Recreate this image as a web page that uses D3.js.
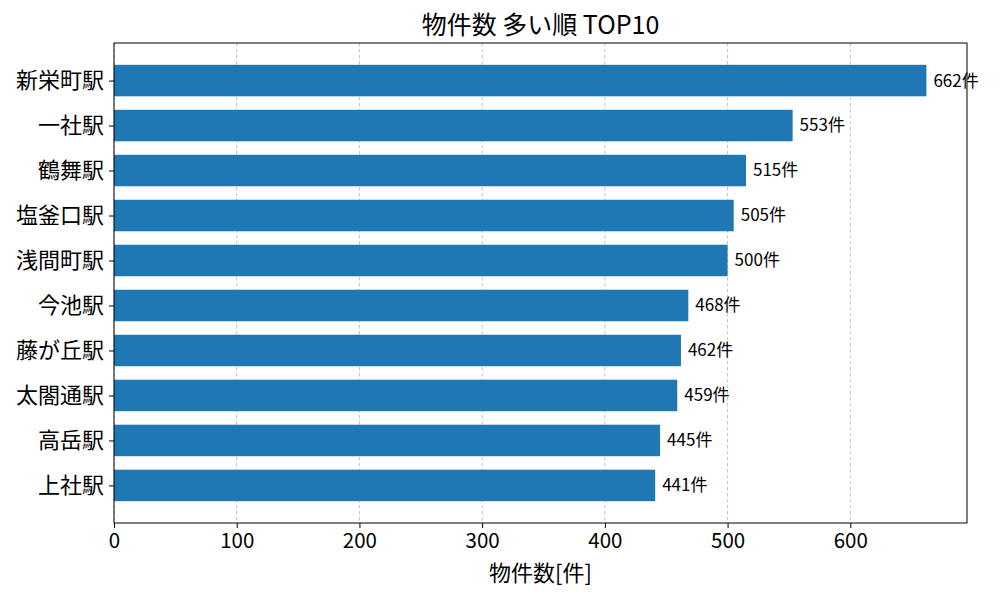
<!DOCTYPE html>
<html><head><meta charset="utf-8">
<script src="https://cdn.jsdelivr.net/npm/d3@7"></script>
<style>body{margin:0;background:#fff}svg{font-family:"Noto Sans CJK JP","Noto Sans",sans-serif}</style>
</head><body><svg id="c" width="1000" height="600"></svg>
<script>
const stations = ["新栄町駅","一社駅","鶴舞駅","塩釜口駅","浅間町駅","今池駅","藤が丘駅","太閤通駅","高岳駅","上社駅"];
const counts = [662,553,515,505,500,468,462,459,445,441];
const xTicks = [0,100,200,300,400,500,600];
const titleText = "物件数 多い順 TOP10";
const xLabelText = "物件数[件]";

const svg = d3.select("#c");
const m = {l:114, r:967, t:43, b:523};
const x = d3.scaleLinear().domain([0, d3.max(counts)*1.05]).range([m.l, m.r]);
const n = stations.length;
const lo = -0.35, hi = n-1+0.35, pad = (hi-lo)*0.05;
const y = d3.scaleLinear().domain([lo-pad, hi+pad]).range([m.t, m.b]);

// grid
svg.append("g").selectAll("line").data(xTicks).join("line")
  .attr("x1", d=>x(d)).attr("x2", d=>x(d)).attr("y1", m.t).attr("y2", m.b)
  .attr("stroke","#b0b0b0").attr("stroke-opacity",0.85).attr("stroke-width",0.9)
  .attr("stroke-dasharray","3.5,2.5");

// bars
svg.append("g").selectAll("rect").data(counts).join("rect")
  .attr("x", x(0)).attr("y", (d,i)=>y(i-0.35))
  .attr("width", d=>x(d)-x(0)).attr("height", (d,i)=>y(i+0.35)-y(i-0.35))
  .attr("fill","#1f77b4");

// value labels
svg.append("g").selectAll("text").data(counts).join("text")
  .attr("x", d=>x(d)+7).attr("y", (d,i)=>y(i)).attr("dy","0.35em")
  .attr("font-size",17).attr("fill","#000").text(d=>d+"件");

// x axis
const xa = svg.append("g").attr("transform",`translate(0,${m.b})`)
  .call(d3.axisBottom(x).tickValues(xTicks).tickSize(5).tickPadding(5).tickFormat(d3.format("d")));
xa.select(".domain").remove();
xa.selectAll("text").attr("font-size",20.5).attr("fill","#000").attr("font-family","Noto Sans CJK JP");
xa.selectAll("line").attr("stroke","#000");

// y axis
const ya = svg.append("g").attr("transform",`translate(${m.l},0)`)
  .call(d3.axisLeft(y).tickValues(d3.range(n)).tickSize(5).tickPadding(5).tickFormat(i=>stations[i]));
ya.select(".domain").remove();
ya.selectAll("text").attr("font-size",22).attr("fill","#000").attr("font-family","Noto Sans CJK JP");
ya.selectAll("line").attr("stroke","#000");

// frame
svg.append("rect").attr("x",m.l).attr("y",m.t).attr("width",m.r-m.l).attr("height",m.b-m.t)
  .attr("fill","none").attr("stroke","#000").attr("stroke-width",1);

// title & label
svg.append("text").attr("x",(m.l+m.r)/2).attr("y",34).attr("text-anchor","middle")
  .attr("font-size",25).text(titleText);
svg.append("text").attr("x",(m.l+m.r)/2).attr("y",581).attr("text-anchor","middle")
  .attr("font-size",22).text(xLabelText);
</script></body></html>
